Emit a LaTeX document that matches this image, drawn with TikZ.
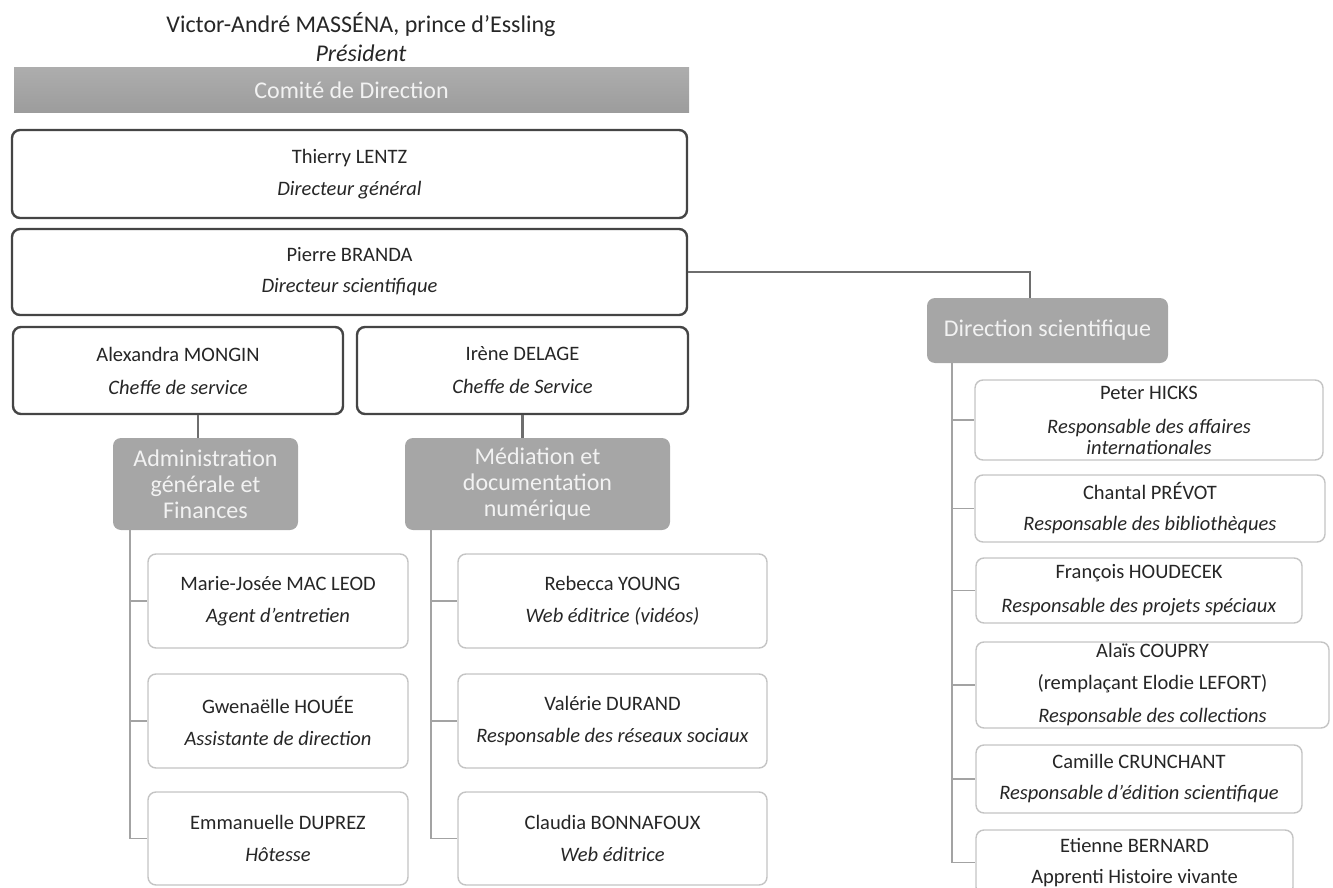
\documentclass[tikz,border=0pt]{standalone}
\usepackage{fontspec}
\setmainfont{Carlito}
\definecolor{boxdark}{HTML}{454545}
\definecolor{leafgray}{HTML}{C4C4C4}
\definecolor{hdrgray}{HTML}{A6A6A6}
\definecolor{conngray}{HTML}{6E6E6E}
\definecolor{treegray}{HTML}{A3A3A3}
\definecolor{txt}{HTML}{262626}
\definecolor{hdrtxt}{HTML}{F2F2F2}
\definecolor{bartop}{HTML}{ADADAD}
\definecolor{barbot}{HTML}{9C9C9C}
\tikzset{
  body/.style={font=\fontsize{20.5}{24}\selectfont, text=txt, align=center, inner sep=0pt},
  topbox/.style={body, draw=boxdark, line width=2.4pt, rounded corners=8pt, fill=white},
  leaf/.style={body, draw=leafgray, line width=1.4pt, rounded corners=8pt, fill=white},
  hdr/.style={fill=hdrgray, rounded corners=8pt, inner sep=0pt, align=center, text=hdrtxt,
    font=\fontsize{24}{26}\selectfont},
  conn/.style={draw=conngray, line width=2.4pt},
  tree/.style={draw=treegray, line width=1.4pt},
}
\begin{document}
\begin{tikzpicture}[x=1pt,y=-1pt]
\useasboundingbox (0,0) rectangle (1333,888);

% title
\node[font=\fontsize{24}{29}\selectfont, text=txt, align=center, inner sep=0pt] (title) at (361,37.5)
  {Victor-André MASSÉNA, prince d’Essling\\\textit{Président}};

% Comité bar
\node[top color=bartop, bottom color=barbot, minimum width=675pt, minimum height=45pt, inner sep=0pt,
  text=hdrtxt, font=\fontsize{24}{26}\selectfont] (comite) at (351.5,90.5) {Comité de Direction};

% top boxes
\node[topbox, minimum width=675pt, minimum height=88pt] (lentz) at (349.5,174)
  {Thierry LENTZ\\[8pt]\textit{Directeur général}};
\node[topbox, minimum width=675pt, minimum height=86pt] (branda) at (349.5,272)
  {Pierre BRANDA\\[7pt]\textit{Directeur scientifique}};
\node[topbox, minimum width=330pt, minimum height=87pt] (mongin) at (178,370.5)
  {Alexandra MONGIN\\[9pt]\textit{Cheffe de service}};
\node[topbox, minimum width=331pt, minimum height=87pt] (delage) at (522.5,370.5)
  {Irène DELAGE\\[9pt]\textit{Cheffe de Service}};

% headers
\node[hdr, minimum width=185pt, minimum height=92pt] (admin) at (205.5,484)
  {Administration\\générale et\\Finances};
\node[hdr, minimum width=265pt, minimum height=92pt] (media) at (537.5,484)
  {Médiation et\\documentation\\numérique};
\node[hdr, minimum width=241pt, minimum height=65pt] (dirsci) at (1047.5,330.5)
  {Direction scientifique};

% left leaves
\node[leaf, minimum width=260pt, minimum height=94pt] (l1) at (278,601)
  {Marie-Josée MAC LEOD\\[8pt]\textit{Agent d’entretien}};
\node[leaf, minimum width=260pt, minimum height=94pt] (l2) at (278,721)
  {Gwenaëlle HOUÉE\\[8pt]\textit{Assistante de direction}};
\node[leaf, minimum width=260pt, minimum height=93pt] (l3) at (278,838.5)
  {Emmanuelle DUPREZ\\[8pt]\textit{Hôtesse}};

% middle leaves
\node[leaf, minimum width=309pt, minimum height=94pt] (m1) at (612.5,601)
  {Rebecca YOUNG\\[8pt]\textit{Web éditrice (vidéos)}};
\node[leaf, minimum width=309pt, minimum height=94pt] (m2) at (612.5,721)
  {Valérie DURAND\\[8pt]\textit{Responsable des réseaux sociaux}};
\node[leaf, minimum width=309pt, minimum height=93pt] (m3) at (612.5,838.5)
  {Claudia BONNAFOUX\\[8pt]\textit{Web éditrice}};

% right leaves
\node[leaf, minimum width=348pt, minimum height=80pt] (r1) at (1149,420)
  {Peter HICKS\\[10pt]\textit{Responsable des affaires}\\[-3pt]\textit{internationales}};
\node[leaf, minimum width=350pt, minimum height=67pt] (r2) at (1150,508.5)
  {Chantal PRÉVOT\\[7pt]\textit{Responsable des bibliothèques}};
\node[leaf, minimum width=326pt, minimum height=65pt] (r3) at (1139,590.5)
  {François HOUDECEK\\[10pt]\textit{Responsable des projets spéciaux}};
\node[leaf, minimum width=353pt, minimum height=86pt] (r4) at (1152.5,685)
  {Alaïs COUPRY\\[8pt](remplaçant Elodie LEFORT)\\[9pt]\textit{Responsable des collections}};
\node[leaf, minimum width=326pt, minimum height=68pt] (r5) at (1139,779)
  {Camille CRUNCHANT\\[7pt]\textit{Responsable d’édition scientifique}};
\node[leaf, minimum width=317pt, minimum height=65pt] (r6) at (1134.5,862.5)
  {Etienne BERNARD\\[7pt]Apprenti Histoire vivante};

% helper coordinates
\coordinate (cm) at (198,0);
\coordinate (cd) at (1030,0);
\coordinate (tl) at (130,0);
\coordinate (tm) at (431,0);
\coordinate (tr) at (952,0);

% connectors from heads
\draw[conn] (mongin.south -| cm) -- (admin.north -| cm);
\draw[conn] (delage.south) -- (delage.south |- media.north);
\draw[conn] (branda.east) -| (dirsci.north -| cd);

% trees
\draw[tree] (admin.south -| tl) |- (l3.west);
\draw[tree] (tl |- l1.west) -- (l1.west);
\draw[tree] (tl |- l2.west) -- (l2.west);

\draw[tree] (media.south -| tm) |- (m3.west);
\draw[tree] (tm |- m1.west) -- (m1.west);
\draw[tree] (tm |- m2.west) -- (m2.west);

\draw[tree] (dirsci.south -| tr) |- (r6.west);
\draw[tree] (tr |- r1.west) -- (r1.west);
\draw[tree] (tr |- r2.west) -- (r2.west);
\draw[tree] (tr |- r3.west) -- (r3.west);
\draw[tree] (tr |- r4.west) -- (r4.west);
\draw[tree] (tr |- r5.west) -- (r5.west);
\end{tikzpicture}
\end{document}
